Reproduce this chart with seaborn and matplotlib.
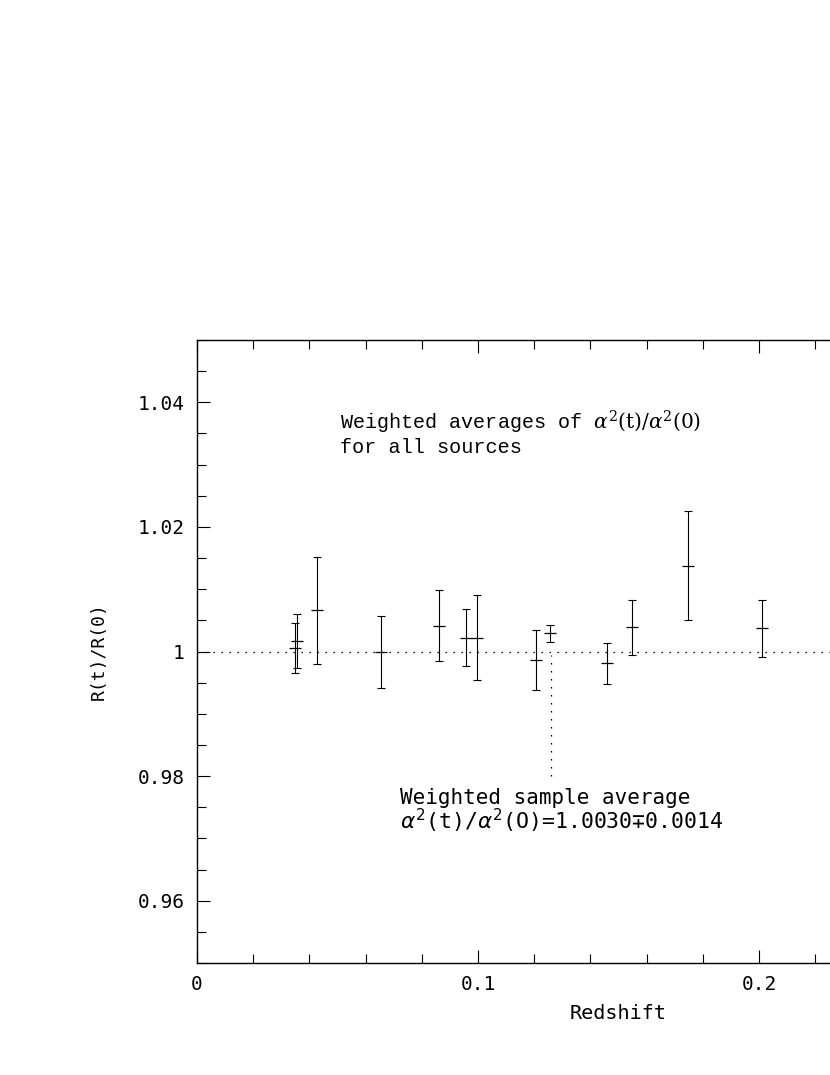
import numpy as np
import pandas as pd
import matplotlib
matplotlib.use("Agg")
import matplotlib.pyplot as plt
import matplotlib.ticker as mticker
import seaborn as sns

# Weighted averages per source
redshift = [0.0356, 0.0349, 0.0428, 0.0655, 0.0862, 0.0956, 0.0995,
            0.1206, 0.1256, 0.1459, 0.1549, 0.1747, 0.2012]
ratio = [1.0017, 1.0006, 1.0066, 0.9999, 1.0041, 1.0022, 1.0022,
         0.9986, 1.0029, 0.9981, 1.0039, 1.0138, 1.0037]
ratio_err = [0.0043, 0.0040, 0.0086, 0.0058, 0.0057, 0.0046, 0.0068,
             0.0048, 0.0014, 0.0033, 0.0044, 0.0087, 0.0046]

sample_z = 0.1259
x_ticks = [0.0, 0.1, 0.2]
y_ticks = [0.96, 0.98, 1.0, 1.02, 1.04]


def fmt(v, pos=None):
    return f"{v:g}"


def run() -> None:
    sns.set_style("ticks")
    plt.rcParams["font.family"] = ["DejaVu Sans Mono", "DejaVu Sans"]
    plt.rcParams["mathtext.fontset"] = "dejavusans"
    for key in ["text.color", "axes.labelcolor", "xtick.color", "ytick.color",
                "axes.edgecolor"]:
        plt.rcParams[key] = "black"

    df = pd.DataFrame({"z": redshift, "r": ratio, "err": ratio_err})

    fig = plt.figure(figsize=(8.30, 10.75), dpi=100)
    ax = fig.add_axes([0.2373, 0.1042, 1.0157, 0.5795])

    # error bars with small caps
    ax.errorbar(df["z"], df["r"], yerr=df["err"], fmt="none", ecolor="black",
                elinewidth=0.8, capsize=3.2, capthick=0.8, zorder=3)
    # centre marks
    sns.scatterplot(data=df, x="z", y="r", marker="_", s=80, color="black",
                    linewidth=0.9, ax=ax, zorder=4, legend=False)

    # reference line and pointer to the sample average
    dots = (0, (1.2, 5.2))
    ax.axhline(1.0, color="black", lw=0.9, ls=dots, zorder=2)
    ax.plot([sample_z, sample_z], [0.98, 0.9995], color="black", lw=0.9, ls=dots)

    ax.set_xlim(0, 0.3)
    ax.set_ylim(0.95, 1.05)
    ax.xaxis.set_major_locator(mticker.FixedLocator(x_ticks))
    ax.xaxis.set_minor_locator(mticker.MultipleLocator(0.02))
    ax.yaxis.set_major_locator(mticker.FixedLocator(y_ticks))
    ax.yaxis.set_minor_locator(mticker.MultipleLocator(0.005))
    ax.xaxis.set_major_formatter(mticker.FuncFormatter(fmt))
    ax.yaxis.set_major_formatter(mticker.FuncFormatter(fmt))

    ax.tick_params(which="both", direction="in", top=True, right=True,
                   width=0.8, labelsize=14, pad=9)
    ax.tick_params(which="major", length=9.5)
    ax.tick_params(which="minor", length=6.5)
    for sp in ax.spines.values():
        sp.set_linewidth(1.0)
        sp.set_color("black")

    ax.set_xlabel("Redshift", fontsize=14.5)
    ax.set_ylabel("R(t)/R(0)", fontsize=13)
    ax.xaxis.set_label_coords(0.5, -0.066)
    ax.yaxis.set_label_coords(-0.106, 0.5)

    ax.text(0.0509, 1.0357,
            r"Weighted averages of $\alpha^2\mathrm{(t)}/\alpha^2\mathrm{(0)}$",
            family=["Liberation Mono", "DejaVu Sans Mono"], fontsize=14.5,
            va="baseline", ha="left", math_fontfamily="dejavuserif")
    ax.text(0.0509, 1.0318, "for all sources",
            family=["Liberation Mono", "DejaVu Sans Mono"], fontsize=14.5,
            va="baseline", ha="left")

    ax.text(0.0722, 0.9755, "Weighted sample average", fontsize=15,
            va="baseline", ha="left")
    ax.text(0.0722, 0.97145,
            r"$\alpha^2$(t)/$\alpha^2$(O)=1.0030∓0.0014", fontsize=15.5,
            va="baseline", ha="left")

    fig.savefig("out.png", dpi=100)


run()
